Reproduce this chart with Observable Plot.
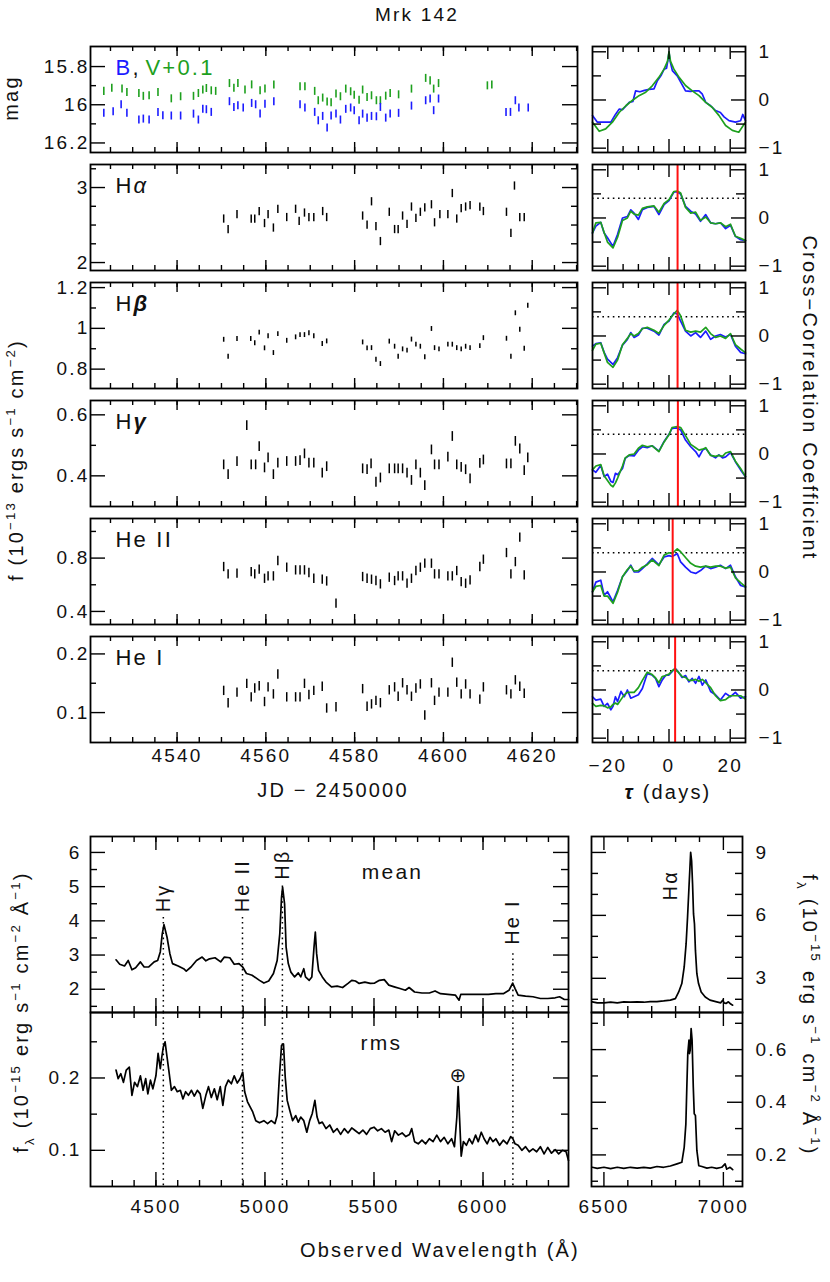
<!DOCTYPE html>
<html><head><meta charset="utf-8">
<script src="https://cdn.jsdelivr.net/npm/d3@7"></script>
<script src="https://cdn.jsdelivr.net/npm/@observablehq/plot@0.6"></script>
<style>
body{margin:0;background:#fff;}
#fig{position:relative;width:830px;height:1282px;overflow:hidden;background:#fff;}
</style></head>
<body><div id="fig"></div>
<script>
// ================= DATA =================
// B-band and V-band (+0.1) light curves: [JD-2450000, mag]
const bObs = [[4523.5,16.045],[4525.6,16.037],[4527.4,16.000],[4528.7,16.045],[4531.4,16.080],[4532.4,16.075],[4533.7,16.080],[4535.7,16.040],[4536.8,16.057],[4538.7,16.059],[4540.8,16.059],[4543.7,16.049],[4544.8,16.080],[4545.8,16.023],[4546.6,16.026],[4547.7,16.040],[4551.8,15.984],[4552.8,16.014],[4553.7,16.005],[4554.9,16.017],[4556.8,15.993],[4557.7,16.000],[4558.7,16.049],[4559.8,15.997],[4561.8,15.984],[4567.7,16.000],[4568.8,16.017],[4571.0,16.040],[4571.8,16.084],[4572.8,16.061],[4573.8,16.122],[4574.7,16.059],[4575.8,16.049],[4576.8,16.080],[4578.0,16.024],[4579.1,16.017],[4579.9,16.031],[4581.0,16.084],[4581.8,16.049],[4582.8,16.070],[4583.8,16.061],[4584.9,16.063],[4585.8,16.014],[4587.0,16.070],[4588.0,16.049],[4589.9,16.045],[4592.8,16.007],[4596.0,15.979],[4597.0,15.970],[4597.8,16.031],[4598.9,15.970],[4614.1,16.040],[4615.1,16.040],[4616.2,15.979],[4617.0,16.017],[4619.1,16.017]];
const vPlusObs = [[4523.5,15.930],[4525.3,15.913],[4527.6,15.918],[4528.7,15.936],[4531.4,15.941],[4532.4,15.956],[4533.7,15.953],[4535.7,15.936],[4538.7,15.969],[4540.8,15.958],[4543.7,15.956],[4544.8,15.941],[4545.8,15.923],[4546.6,15.915],[4547.7,15.927],[4548.7,15.930],[4551.8,15.889],[4552.8,15.913],[4553.7,15.889],[4555.3,15.923],[4556.8,15.896],[4558.7,15.927],[4559.8,15.918],[4561.8,15.896],[4567.7,15.906],[4568.8,15.906],[4571.0,15.930],[4571.8,15.979],[4572.8,15.965],[4573.8,15.986],[4574.7,15.990],[4575.8,15.944],[4576.8,15.958],[4578.0,15.918],[4579.1,15.932],[4579.9,15.950],[4581.0,15.976],[4581.8,15.923],[4582.8,15.962],[4583.8,15.953],[4584.9,15.979],[4585.8,15.979],[4587.0,15.955],[4588.0,15.941],[4589.9,15.948],[4592.8,15.918],[4596.0,15.862],[4597.0,15.875],[4597.8,15.918],[4598.9,15.889],[4609.9,15.901],[4610.9,15.896]];
const magErr = 0.021;

// Emission-line light curves: [JD-2450000, flux (1e-13 erg/s/cm2)]
const haObs = [[4550.5,2.58],[4551.5,2.44],[4553.5,2.64],[4556.7,2.58],[4557.5,2.58],[4558.5,2.68],[4559.7,2.52],[4560.5,2.64],[4561.7,2.46],[4562.7,2.71],[4564.7,2.60],[4566.7,2.71],[4567.5,2.55],[4568.7,2.66],[4569.7,2.60],[4570.8,2.60],[4572.8,2.68],[4573.7,2.60],[4581.8,2.62],[4582.8,2.50],[4583.8,2.81],[4584.8,2.48],[4585.8,2.28],[4587.8,2.67],[4589.0,2.44],[4589.8,2.44],[4590.8,2.62],[4591.8,2.51],[4592.8,2.74],[4593.8,2.59],[4594.8,2.67],[4595.8,2.73],[4597.3,2.77],[4598.0,2.53],[4599.2,2.64],[4601.0,2.64],[4602.0,2.92],[4603.0,2.58],[4604.0,2.72],[4605.0,2.74],[4606.0,2.76],[4608.2,2.74],[4609.0,2.68],[4614.2,2.67],[4615.2,2.39],[4616.0,3.02],[4617.2,2.60],[4618.2,2.60]];
const hbObs = [[4550.5,0.944],[4551.5,0.861],[4553.5,0.948],[4556.6,0.948],[4557.5,0.927],[4558.5,0.979],[4559.7,0.902],[4560.5,0.961],[4561.7,0.879],[4562.7,0.972],[4564.7,0.939],[4566.7,0.956],[4567.7,0.967],[4568.7,0.967],[4569.7,0.976],[4570.8,0.961],[4572.7,0.923],[4573.7,0.936],[4581.8,0.931],[4582.8,0.902],[4583.8,0.903],[4584.8,0.846],[4585.8,0.825],[4587.8,0.935],[4589.0,0.910],[4589.8,0.861],[4590.8,0.897],[4591.8,0.891],[4592.8,0.945],[4593.8,0.920],[4594.8,0.910],[4595.8,0.858],[4597.3,0.997],[4598.0,0.903],[4599.0,0.897],[4601.0,0.920],[4602.0,0.920],[4603.0,0.903],[4604.0,0.897],[4605.0,0.910],[4606.0,0.903],[4608.2,0.913],[4609.0,0.952],[4614.2,0.949],[4615.2,0.861],[4616.2,1.074],[4617.2,0.993],[4618.2,0.900],[4619.0,1.111]];
const hgObs = [[4550.5,0.436],[4551.5,0.404],[4553.5,0.447],[4555.7,0.565],[4556.7,0.436],[4557.7,0.436],[4558.5,0.496],[4559.7,0.426],[4560.5,0.459],[4561.7,0.404],[4562.7,0.442],[4564.7,0.447],[4566.7,0.447],[4567.7,0.450],[4568.7,0.472],[4569.7,0.442],[4570.8,0.442],[4572.7,0.409],[4573.7,0.430],[4581.8,0.423],[4582.8,0.420],[4583.7,0.439],[4584.8,0.379],[4585.8,0.393],[4587.8,0.423],[4589.0,0.423],[4589.8,0.423],[4590.8,0.423],[4591.8,0.409],[4592.8,0.385],[4593.8,0.436],[4594.8,0.409],[4595.8,0.368],[4597.3,0.485],[4598.0,0.436],[4599.0,0.436],[4601.0,0.461],[4602.0,0.529],[4603.0,0.436],[4604.0,0.428],[4605.0,0.420],[4606.0,0.390],[4608.2,0.441],[4609.0,0.452],[4614.2,0.439],[4615.2,0.439],[4616.2,0.513],[4617.2,0.488],[4618.2,0.417],[4619.0,0.459]];
const he2Obs = [[4550.5,0.733],[4551.5,0.678],[4553.5,0.683],[4556.7,0.695],[4557.5,0.678],[4558.5,0.713],[4559.7,0.645],[4560.5,0.663],[4561.7,0.663],[4562.7,0.778],[4564.7,0.728],[4566.7,0.708],[4567.7,0.708],[4568.7,0.708],[4569.7,0.688],[4570.8,0.645],[4572.7,0.638],[4573.7,0.625],[4575.8,0.458],[4581.8,0.658],[4582.8,0.645],[4583.8,0.638],[4584.8,0.628],[4585.8,0.603],[4587.8,0.653],[4589.0,0.628],[4589.8,0.663],[4590.8,0.663],[4591.8,0.608],[4592.8,0.645],[4593.8,0.703],[4594.8,0.728],[4595.8,0.758],[4597.3,0.758],[4598.0,0.678],[4599.0,0.678],[4601.0,0.663],[4602.0,0.663],[4603.0,0.703],[4604.0,0.620],[4605.0,0.608],[4606.0,0.633],[4608.2,0.733],[4609.0,0.788],[4614.2,0.838],[4615.2,0.678],[4616.2,0.770],[4617.2,0.953],[4618.2,0.670]];
const he1Obs = [[4550.5,0.137],[4551.5,0.116],[4553.5,0.134],[4555.7,0.149],[4556.7,0.126],[4557.5,0.141],[4558.5,0.145],[4559.7,0.118],[4560.5,0.143],[4561.7,0.131],[4562.7,0.165],[4564.7,0.126],[4566.7,0.126],[4567.7,0.126],[4568.7,0.149],[4569.7,0.130],[4570.8,0.137],[4572.7,0.144],[4573.7,0.107],[4575.8,0.109],[4581.8,0.140],[4582.8,0.110],[4583.8,0.114],[4584.8,0.120],[4585.8,0.116],[4587.8,0.138],[4589.0,0.143],[4589.8,0.127],[4590.8,0.150],[4591.8,0.138],[4592.8,0.127],[4593.8,0.141],[4594.8,0.148],[4595.8,0.095],[4597.3,0.150],[4598.0,0.120],[4599.0,0.134],[4601.0,0.134],[4602.0,0.185],[4603.0,0.151],[4604.0,0.131],[4605.0,0.148],[4606.0,0.131],[4608.2,0.122],[4609.0,0.143],[4614.2,0.138],[4615.2,0.131],[4616.2,0.155],[4617.2,0.144],[4618.2,0.132]];
const lineErr = [0.055, 0.012, 0.016, 0.035, 0.008];

// Cross-correlation functions (blue: vs B, green: vs V)
const acfBlue = [[-25,-0.32],[-23.4,-0.46],[-21,-0.46],[-19,-0.46],[-17.5,-0.30],[-16.3,-0.19],[-15.2,-0.20],[-14,-0.12],[-13,-0.05],[-11.8,-0.03],[-10.9,0.19],[-9.5,0.17],[-8,0.20],[-6.5,0.22],[-4.9,0.23],[-3.8,0.40],[-2.5,0.52],[-1.6,0.64],[-0.8,0.66],[-0.3,0.85],[0,0.99],[0.4,0.80],[1.1,0.61],[2.7,0.50],[4,0.35],[5.4,0.19],[7,0.18],[8.5,0.19],[9.8,0.19],[10.9,0.12],[12,-0.05],[13.6,-0.12],[15.2,-0.22],[16.8,-0.26],[18,-0.35],[19.6,-0.43],[21.7,-0.46],[23.4,-0.43],[24.1,-0.30],[25,-0.43]];
const acfGreen = [[-25,-0.46],[-22.8,-0.65],[-20.7,-0.60],[-18.5,-0.46],[-16.3,-0.26],[-14.1,-0.12],[-12,-0.01],[-9.8,0.09],[-7.6,0.16],[-5.4,0.30],[-3.3,0.47],[-1.6,0.64],[-0.5,0.80],[0,1.0],[0.5,0.80],[1.6,0.64],[3.3,0.47],[5.4,0.30],[7.6,0.19],[9.8,0.09],[12,-0.05],[14.1,-0.15],[16.3,-0.32],[18.5,-0.53],[20.7,-0.63],[22.8,-0.67],[25,-0.46]];
const tauA = [-25,-23.9,-22.3,-21.2,-20.1,-18.3,-16.8,-15.2,-13.6,-12.5,-11.4,-10,-8.7,-7.1,-4.9,-3.3,-1.6,0,1.6,2.7,3.8,5.4,7.1,8.7,10.3,12,13.6,15.2,16.8,18.5,20.1,21.7,23.4,25];
const haBlue = [-0.31,-0.17,-0.09,-0.31,-0.41,-0.59,-0.34,0,0.03,0.17,0.10,-0.03,0.17,0.22,0.24,0.07,0.28,0.36,0.54,0.54,0.50,0.24,0.14,0.08,-0.07,0.07,-0.10,-0.12,-0.10,-0.22,-0.15,-0.38,-0.45,-0.47];
const haGreen = [-0.31,-0.10,-0.09,-0.30,-0.50,-0.62,-0.40,-0.05,0.00,0.14,0.08,0.06,0.20,0.23,0.25,0.12,0.30,0.38,0.55,0.56,0.52,0.22,0.10,0.12,-0.05,0.02,-0.10,-0.12,-0.10,-0.18,-0.13,-0.38,-0.42,-0.47];
const hbBlue = [-0.21,-0.16,-0.14,-0.34,-0.48,-0.59,-0.45,-0.19,-0.07,0.07,-0.03,0.02,0.16,0.16,0.10,0.02,0.24,0.31,0.48,0.46,0.31,0.10,0.00,0.07,-0.03,0.10,-0.07,0.00,0.03,-0.02,0.03,-0.21,-0.34,-0.37];
const hbGreen = [-0.30,-0.17,-0.15,-0.35,-0.55,-0.65,-0.50,-0.18,-0.05,0.05,0.00,0.05,0.15,0.18,0.12,0.05,0.22,0.33,0.46,0.53,0.42,0.12,0.08,0.10,0.08,0.18,0.05,-0.03,0.00,-0.05,0.05,-0.18,-0.27,-0.35];
const tauG = [-25,-23.9,-22.3,-21.2,-20.1,-19,-18.3,-17.5,-16.8,-15.2,-14.3,-13,-11.4,-10,-8.7,-7.1,-5.5,-3.3,-1.6,0,1,2.7,3.8,5.4,7.1,8.7,9.8,11,12,13.6,15.2,16.3,17.5,18.5,20.1,21.7,23.4,25];
const hgBlue = [-0.33,-0.38,-0.24,-0.47,-0.42,-0.57,-0.59,-0.40,-0.43,-0.30,-0.09,-0.03,-0.04,0.08,0.15,0.13,0.17,0.06,0.26,0.41,0.53,0.54,0.50,0.29,0.15,0.05,-0.06,0.08,0.12,-0.02,-0.08,-0.02,-0.08,-0.06,0.03,-0.16,-0.33,-0.47];
const hgGreen = [-0.33,-0.25,-0.22,-0.45,-0.55,-0.65,-0.68,-0.60,-0.50,-0.25,-0.08,-0.02,0.00,0.12,0.18,0.15,0.17,0.05,0.25,0.40,0.55,0.57,0.55,0.38,0.20,0.13,0.08,0.10,0.13,-0.03,-0.05,-0.03,-0.05,0.02,0.05,-0.15,-0.30,-0.47];
const tauH2 = [-25,-23.9,-22.3,-21.2,-20.1,-18.3,-16.8,-15.2,-13.6,-12.5,-11.4,-10,-8.7,-7.1,-5.5,-3.3,-1.6,0,1,2.7,3.8,5.4,7.1,8.7,10.3,12,13.6,15.2,16.8,18.5,20.1,21.7,23.4,25];
const he2Blue = [-0.41,-0.21,-0.17,-0.48,-0.41,-0.62,-0.38,-0.10,0.03,0.14,0.00,0.00,0.07,0.17,0.28,0.15,0.31,0.34,0.32,0.38,0.21,0.10,0.00,-0.03,0.03,0.12,0.07,0.10,0.14,0.07,0.14,-0.10,-0.28,-0.31];
const he2Green = [-0.41,-0.30,-0.28,-0.50,-0.50,-0.65,-0.42,-0.10,0.05,0.12,0.02,0.03,0.10,0.15,0.25,0.13,0.35,0.40,0.38,0.48,0.42,0.30,0.18,0.12,0.10,0.12,0.10,0.12,0.12,0.08,0.10,-0.12,-0.22,-0.31];
const tauH1 = [-25,-23.9,-22.3,-21.2,-20.1,-19,-18.3,-17.5,-16.8,-15.7,-14.6,-13.6,-12.5,-11.4,-10,-8.7,-7.1,-5.5,-4.4,-3.3,-2.2,-1,0,1,2,3,4.3,5.4,6.5,7.6,8.7,9.8,10.9,12,13.6,15.2,16.8,18.5,20.1,21.7,23.4,25];
const he1Blue = [-0.14,-0.21,-0.19,-0.34,-0.28,-0.41,-0.34,-0.14,-0.24,-0.03,-0.14,0,-0.17,-0.14,-0.10,0.03,0.34,0.31,0.24,0.07,0.21,0.31,0.31,0.38,0.45,0.38,0.26,0.30,0.17,0.24,0.14,0.28,0.10,0.21,-0.03,-0.10,-0.21,-0.07,-0.14,-0.05,-0.17,-0.14];
const he1Green = [-0.28,-0.34,-0.32,-0.33,-0.37,-0.35,-0.30,-0.27,-0.30,-0.20,-0.10,-0.05,-0.05,-0.05,0.05,0.20,0.37,0.32,0.25,0.15,0.28,0.30,0.33,0.40,0.44,0.37,0.28,0.26,0.20,0.20,0.22,0.18,0.22,0.15,0.05,-0.12,-0.22,-0.20,-0.12,-0.12,-0.12,-0.19];
const lineLags = [2.8, 2.8, 2.9, 1.2, 2.0];
const ccfLevel = [0.41, 0.40, 0.41, 0.40, 0.40];

// Mean and rms spectra
const meanWave = [4317,4334,4356,4373,4390,4407,4429,4446,4466,4492,4508,4520,4529,4537,4551,4564,4576,4602,4627,4639,4661,4686,4712,4729,4746,4771,4797,4814,4839,4859,4881,4898,4915,4941,4975,4995,5017,5039,5056,5068,5076,5081,5090,5097,5107,5119,5136,5153,5164,5178,5186,5203,5215,5225,5231,5237,5246,5263,5280,5305,5331,5356,5381,5398,5415,5432,5458,5483,5503,5525,5547,5568,5593,5619,5644,5661,5686,5720,5754,5780,5805,5839,5873,5890,5898,5924,5958,5992,6025,6059,6093,6119,6136,6147,6161,6195,6229,6263,6297,6331,6351,6373,6392];
const meanFlux = [2.86,2.73,2.68,2.84,2.57,2.63,2.80,2.65,2.65,2.80,2.84,3.09,3.62,3.89,3.52,3.04,2.75,2.68,2.60,2.53,2.65,2.84,2.94,2.83,2.89,2.92,2.80,2.94,2.92,2.73,2.75,2.65,2.46,2.41,2.26,2.18,2.24,2.46,2.84,3.62,4.69,4.98,4.50,3.23,2.75,2.50,2.36,2.48,2.36,2.60,2.36,2.26,2.36,3.23,3.67,3.04,2.55,2.36,2.21,2.07,2.09,2.05,2.17,2.26,2.24,2.17,2.21,2.17,2.18,2.26,2.28,2.12,2.07,2.02,1.97,2.05,1.92,1.89,1.89,1.95,1.87,1.85,1.83,1.68,1.85,1.85,1.85,1.85,1.85,1.87,1.87,1.97,2.18,2.02,1.83,1.80,1.78,1.73,1.73,1.75,1.78,1.70,1.70];
const rmsWave = [4317,4327,4339,4351,4364,4378,4390,4402,4415,4429,4441,4453,4463,4475,4486,4500,4510,4520,4527,4534,4542,4551,4559,4571,4585,4598,4612,4624,4636,4649,4663,4676,4690,4703,4715,4729,4741,4754,4768,4781,4795,4807,4819,4832,4846,4859,4873,4886,4898,4907,4920,4932,4944,4958,4975,4995,5012,5029,5046,5056,5066,5076,5085,5093,5102,5114,5127,5141,5153,5164,5178,5192,5205,5217,5229,5239,5249,5263,5280,5297,5314,5331,5347,5364,5381,5398,5415,5432,5449,5466,5483,5500,5517,5534,5551,5568,5581,5595,5612,5629,5646,5663,5673,5686,5703,5720,5737,5754,5771,5788,5805,5822,5839,5856,5869,5880,5886,5893,5900,5910,5924,5937,5951,5966,5978,5992,6005,6019,6032,6046,6059,6076,6093,6110,6127,6137,6147,6161,6178,6195,6212,6229,6246,6263,6280,6297,6314,6331,6347,6364,6381,6392];
const rmsFlux = [0.211,0.199,0.206,0.194,0.211,0.215,0.176,0.194,0.188,0.203,0.183,0.199,0.178,0.197,0.185,0.203,0.234,0.213,0.229,0.243,0.250,0.229,0.211,0.183,0.188,0.181,0.183,0.171,0.181,0.176,0.183,0.175,0.183,0.178,0.158,0.176,0.188,0.173,0.185,0.170,0.188,0.162,0.188,0.197,0.192,0.203,0.193,0.199,0.208,0.181,0.167,0.160,0.153,0.141,0.138,0.141,0.137,0.141,0.137,0.148,0.201,0.245,0.247,0.201,0.169,0.155,0.141,0.148,0.139,0.146,0.141,0.125,0.141,0.151,0.169,0.146,0.137,0.139,0.130,0.135,0.125,0.130,0.122,0.130,0.124,0.131,0.127,0.123,0.128,0.122,0.130,0.132,0.127,0.130,0.125,0.128,0.112,0.127,0.121,0.124,0.119,0.122,0.130,0.112,0.109,0.114,0.109,0.116,0.112,0.121,0.112,0.118,0.109,0.116,0.105,0.146,0.188,0.141,0.092,0.112,0.107,0.116,0.109,0.121,0.112,0.125,0.116,0.109,0.118,0.112,0.116,0.107,0.114,0.109,0.119,0.116,0.109,0.107,0.100,0.105,0.098,0.102,0.098,0.105,0.095,0.104,0.096,0.101,0.095,0.100,0.098,0.086];
const haMeanWave = [6451,6472,6500,6528,6556,6583,6611,6639,6667,6694,6722,6750,6778,6799,6813,6826,6836,6844,6850,6856,6860,6863,6867,6871,6875,6879,6883,6889,6896,6907,6924,6944,6972,6989,6997,7003,7011,7021,7031,7039];
const haMeanFlux = [1.88,1.83,1.83,1.86,1.83,1.88,1.86,1.88,1.86,1.89,1.89,1.92,1.96,2.03,2.35,2.75,3.54,4.65,5.91,7.34,8.28,9.0,8.6,7.49,6.07,5.59,4.33,3.22,2.75,2.35,2.11,1.96,1.88,1.83,1.96,1.83,1.80,1.88,1.77,1.72];
const haRmsWave = [6451,6472,6500,6528,6556,6583,6611,6639,6667,6694,6722,6750,6778,6806,6826,6836,6843,6847,6851,6856,6858,6861,6865,6869,6874,6878,6883,6889,6897,6910,6931,6951,6972,6993,7007,7014,7028,7039];
const haRmsFlux = [0.153,0.149,0.153,0.148,0.153,0.149,0.153,0.150,0.153,0.150,0.156,0.153,0.158,0.166,0.172,0.229,0.318,0.458,0.585,0.636,0.585,0.597,0.680,0.636,0.458,0.356,0.350,0.217,0.159,0.156,0.150,0.153,0.149,0.153,0.166,0.146,0.153,0.144];
const lineNames = ["Hγ", "He II", "Hβ", "He I"];
const lineWave = [4534, 4897, 5080, 6137];

// Tick labels
const jdTicks = [4540, 4560, 4580, 4600, 4620];
const tauTicks = [-20, 0, 20];
const waveTicks = [4500, 5000, 5500, 6000];
const haWaveTicks = [6500, 7000];

// ================= DRAWING =================
const INK = "#000", TXT = "#111", BLUE = "#1c1cff", GREEN = "#1ea01e", RED = "#ff1010";
const FONT = "'Liberation Sans', Arial, Helvetica, sans-serif";
const fig = document.getElementById("fig");
const fmt = d => String(d).replace("-", "−");
const baseStyle = {background: "none", overflow: "visible", fontFamily: FONT, fontSize: "19px", letterSpacing: "2.2px", color: TXT};

function place(svg, left, top) {
  svg.style.position = "absolute"; svg.style.left = left + "px"; svg.style.top = top + "px";
  svg.style.maxWidth = "none";
  fig.appendChild(svg);
}
function within(vals, dom) { const lo = Math.min(...dom), hi = Math.max(...dom); return vals.filter(v => v > lo && v < hi); }
function innerTicks(W, H, xd, yd, xMaj, xMin, yMaj, yMin, L) {
  const s = {stroke: INK, strokeWidth: 1.4};
  const xm = within(xMaj, xd), xn = within(xMin, xd), ym = within(yMaj, yd), yn = within(yMin, yd);
  return [
    Plot.tickX(xm, {x: d => d, insetTop: H - L.xM, ...s}),
    Plot.tickX(xm, {x: d => d, insetBottom: H - L.xM, ...s}),
    Plot.tickX(xn, {x: d => d, insetTop: H - L.xm, ...s}),
    Plot.tickX(xn, {x: d => d, insetBottom: H - L.xm, ...s}),
    Plot.tickY(ym, {y: d => d, insetRight: W - L.yM, ...s}),
    Plot.tickY(ym, {y: d => d, insetLeft: W - L.yM, ...s}),
    Plot.tickY(yn, {y: d => d, insetRight: W - L.ym, ...s}),
    Plot.tickY(yn, {y: d => d, insetLeft: W - L.ym, ...s}),
    Plot.frame({stroke: INK, strokeWidth: 1.8})
  ];
}
const step = (a, b, s) => d3.range(a, b + s / 2, s).map(v => +v.toFixed(4));
const corner = {frameAnchor: "top-left", dy: 21, textAnchor: "start", lineAnchor: "middle", fontSize: 22};

// ---------- Light-curve panels ----------
const ROW_TOP = [46, 164, 282, 400, 518, 636], ROW_H = 106;
const LC_LEFT = 90, LC_W = 487, jdDomain = [4520.5, 4630.2];
const lcDefs = [
  {obs: null, dom: [15.695, 16.25], rev: true, maj: [15.8, 16, 16.2], min: [15.9, 16.1]},
  {obs: haObs, dom: [1.894, 3.307], maj: [2, 3], min: [2.25, 2.5, 2.75, 3.25], name: ["H", "α", "normal"]},
  {obs: hbObs, dom: [0.705, 1.225], maj: [0.8, 1, 1.2], min: [0.9, 1.1], name: ["H", "β", "bold"]},
  {obs: hgObs, dom: [0.2995, 0.647], maj: [0.4, 0.6], min: [0.5], name: ["H", "γ", "bold"]},
  {obs: he2Obs, dom: [0.302, 1.097], maj: [0.4, 0.8], min: [0.6, 1.0], name: ["He II", "", "normal"]},
  {obs: he1Obs, dom: [0.049, 0.2297], maj: [0.1, 0.2], min: [0.15], name: ["He I", "", "normal"]}
];
lcDefs.forEach((def, i) => {
  const bottom = i === 5;
  const ml = 70, mr = 8, mt = 4, mb = bottom ? 40 : 4;
  const marks = [];
  if (i === 0) {
    marks.push(
      Plot.ruleX(vPlusObs, {x: d => d[0], y1: d => d[1] - magErr, y2: d => d[1] + magErr, stroke: GREEN, strokeWidth: 1.6}),
      Plot.ruleX(bObs, {x: d => d[0], y1: d => d[1] - magErr, y2: d => d[1] + magErr, stroke: BLUE, strokeWidth: 1.6}),
      Plot.text(["B"], {text: d => d, ...corner, dx: 25, fill: BLUE}),
      Plot.text([","], {text: d => d, ...corner, dx: 42, fill: TXT}),
      Plot.text(["V+0.1"], {text: d => d, ...corner, dx: 55, fill: GREEN})
    );
  } else {
    const e = lineErr[i - 1];
    marks.push(
      Plot.ruleX(def.obs, {x: d => d[0], y1: d => d[1] - e, y2: d => d[1] + e, stroke: INK, strokeWidth: 1.5}),
      Plot.text([def.name[0]], {text: d => d, ...corner, dx: 25, fill: TXT})
    );
    if (def.name[1]) marks.push(Plot.text([def.name[1]], {text: d => d, ...corner, dx: 43, fill: TXT, fontStyle: "italic", fontWeight: def.name[2]}));
  }
  const svg = Plot.plot({
    width: LC_W + ml + mr, height: ROW_H + mt + mb,
    marginLeft: ml, marginRight: mr, marginTop: mt, marginBottom: mb,
    style: baseStyle,
    x: {domain: jdDomain, axis: bottom ? "bottom" : null, ticks: jdTicks, tickSize: 0, tickPadding: 6, tickFormat: fmt, label: null},
    y: {domain: def.dom, reverse: !!def.rev, axis: "left", ticks: def.maj, tickSize: 0, tickPadding: 1, tickFormat: fmt, label: null},
    marks: [...marks, ...innerTicks(LC_W, ROW_H, jdDomain, def.dom, jdTicks, step(4525, 4630, 5), def.maj, def.min, {xM: 10, xm: 5, yM: 15, ym: 6})]
  });
  place(svg, LC_LEFT - ml, ROW_TOP[i] - mt);
});

// ---------- CCF panels ----------
const CCF_LEFT = 592, CCF_W = 153, tauDomain = [-25, 25], ccfDomain = [-1.09, 1.11];
const ccfDefs = [
  {blue: acfBlue.map(d => d[1]), bt: acfBlue.map(d => d[0]), green: acfGreen.map(d => d[1]), gt: acfGreen.map(d => d[0])},
  {blue: haBlue, bt: tauA, green: haGreen, gt: tauA},
  {blue: hbBlue, bt: tauA, green: hbGreen, gt: tauA},
  {blue: hgBlue, bt: tauG, green: hgGreen, gt: tauG},
  {blue: he2Blue, bt: tauH2, green: he2Green, gt: tauH2},
  {blue: he1Blue, bt: tauH1, green: he1Green, gt: tauH1}
];
ccfDefs.forEach((def, i) => {
  const bottom = i === 5;
  const ml = 8, mr = 40, mt = 4, mb = bottom ? 40 : 4;
  const marks = [];
  if (i > 0) marks.push(Plot.ruleY([ccfLevel[i - 1]], {y: d => d, stroke: INK, strokeWidth: 1.5, strokeDasharray: "1.6,3.6"}));
  marks.push(
    Plot.line(def.blue, {x: def.bt, y: def.blue, stroke: BLUE, strokeWidth: 1.7}),
    Plot.line(def.green, {x: def.gt, y: def.green, stroke: GREEN, strokeWidth: 1.7})
  );
  if (i > 0) marks.push(Plot.ruleX([lineLags[i - 1]], {x: d => d, stroke: RED, strokeWidth: 2}));
  const svg = Plot.plot({
    width: CCF_W + ml + mr, height: ROW_H + mt + mb,
    marginLeft: ml, marginRight: mr, marginTop: mt, marginBottom: mb,
    style: baseStyle,
    x: {domain: tauDomain, axis: bottom ? "bottom" : null, ticks: tauTicks, tickSize: 0, tickPadding: 16, tickFormat: fmt, label: null},
    y: {domain: ccfDomain, axis: "right", ticks: [-1, 0, 1], tickSize: 0, tickPadding: 13, tickFormat: fmt, label: null},
    marks: [...marks, ...innerTicks(CCF_W, ROW_H, tauDomain, ccfDomain, tauTicks, [-15, -10, -5, 5, 10, 15], [-1, 0, 1], [-0.5, 0.5], {xM: 13, xm: 6, yM: 14, ym: 9})]
  });
  place(svg, CCF_LEFT - ml, ROW_TOP[i] - mt);
});

// ---------- Spectra ----------
const SP_LEFT = 90, SP_W = 478, HA_LEFT = 591, HA_W = 151;
const MEAN_TOP = 836, MEAN_H = 176, RMS_TOP = 1012, RMS_H = 174;
const waveDomain = [4200, 6392], haDomain = [6448, 7080];
const meanDom = [1.32, 6.466], rmsDom = [0.05, 0.2905], haMeanDom = [1.37, 9.76], haRmsDom = [0.08, 0.741];
const dotTop = [4.1, 4.1, 5.05, 3.15], labelBase = [4.25, 4.25, 5.2, 3.3];
const specStroke = {stroke: INK, strokeWidth: 1.7, strokeLinejoin: "round"};
const dots = {stroke: INK, strokeWidth: 1.5, strokeDasharray: "1.6,3.6"};

function specPanel({left, top, W, H, xd, yd, xTicks, xMin, yMaj, yMin, axisY, xAxis, marks, padY}) {
  const ml = 60, mr = 60, mt = 4, mb = xAxis ? 40 : 4;
  const svg = Plot.plot({
    width: W + ml + mr, height: H + mt + mb,
    marginLeft: ml, marginRight: mr, marginTop: mt, marginBottom: mb,
    style: baseStyle,
    x: {domain: xd, axis: xAxis ? "bottom" : null, ticks: xTicks, tickSize: 0, tickPadding: 13, tickFormat: fmt, label: null},
    y: {domain: yd, axis: axisY, ticks: yMaj, tickSize: 0, tickPadding: padY, tickFormat: fmt, label: null},
    marks: [...marks, ...innerTicks(W, H, xd, yd, xTicks, xMin, yMaj, yMin, {xM: 14, xm: 6, yM: 15, ym: 7})]
  });
  place(svg, left - ml, top - mt);
}
specPanel({left: SP_LEFT, top: MEAN_TOP, W: SP_W, H: MEAN_H, xd: waveDomain, yd: meanDom, xTicks: waveTicks,
  xMin: step(4300, 6300, 100), yMaj: [2, 3, 4, 5, 6], yMin: [1.5, 2.5, 3.5, 4.5, 5.5], axisY: "left", xAxis: false, padY: 9,
  marks: [
    Plot.ruleX(lineWave, {x: d => d, y1: meanDom[0], y2: (d, i) => dotTop[i], ...dots}),
    Plot.line(meanFlux, {x: meanWave, y: meanFlux, ...specStroke}),
    Plot.text(lineNames, {x: lineWave, y: labelBase, text: d => d, rotate: -90, textAnchor: "start", fill: TXT, fontSize: 20}),
    Plot.text(["mean"], {x: 5585, y: 5.41, text: d => d, fill: TXT, fontSize: 21})
  ]});
specPanel({left: SP_LEFT, top: RMS_TOP, W: SP_W, H: RMS_H, xd: waveDomain, yd: rmsDom, xTicks: waveTicks,
  xMin: step(4300, 6300, 100), yMaj: [0.1, 0.2], yMin: [0.15, 0.25], axisY: "left", xAxis: true, padY: 9,
  marks: [
    Plot.ruleX(lineWave, {x: d => d, ...dots}),
    Plot.line(rmsFlux, {x: rmsWave, y: rmsFlux, ...specStroke}),
    Plot.text(["rms"], {x: 5534, y: 0.248, text: d => d, fill: TXT, fontSize: 21}),
    Plot.text(["⊕"], {x: 5890, y: 0.203, text: d => d, fill: TXT, fontSize: 20, fontFamily: "'DejaVu Sans', sans-serif"})
  ]});
specPanel({left: HA_LEFT, top: MEAN_TOP, W: HA_W, H: MEAN_H, xd: haDomain, yd: haMeanDom, xTicks: haWaveTicks,
  xMin: [6600, 6700, 6800, 6900], yMaj: [3, 6, 9], yMin: [2, 4, 5, 7, 8], axisY: "right", xAxis: false, padY: 13,
  marks: [
    Plot.line(haMeanFlux, {x: haMeanWave, y: haMeanFlux, ...specStroke}),
    Plot.text(["Hα"], {x: 6781, y: 6.71, text: d => d, rotate: -90, textAnchor: "start", fill: TXT, fontSize: 20})
  ]});
specPanel({left: HA_LEFT, top: RMS_TOP, W: HA_W, H: RMS_H, xd: haDomain, yd: haRmsDom, xTicks: haWaveTicks,
  xMin: [6600, 6700, 6800, 6900], yMaj: [0.2, 0.4, 0.6], yMin: [0.1, 0.3, 0.5, 0.7], axisY: "right", xAxis: true, padY: 13,
  marks: [
    Plot.line(haRmsFlux, {x: haRmsWave, y: haRmsFlux, ...specStroke})
  ]});

// ---------- Figure-level labels ----------
const ov = d3.select(fig).append("svg").attr("width", 830).attr("height", 1282)
  .style("position", "absolute").style("left", "0px").style("top", "0px").style("pointer-events", "none")
  .style("font-family", FONT).style("letter-spacing", "2.2px").style("white-space", "pre").attr("fill", TXT);
function label(x, y, rot, parts, size = 20) {
  const t = ov.append("text").attr("transform", `translate(${x},${y}) rotate(${rot})`)
    .attr("text-anchor", "middle").attr("y", size * 0.35).style("font-size", size + "px");
  let off = 0;
  for (const [s, kind] of parts) {
    const target = kind === "sup" ? -0.42 * size : kind === "sub" ? 0.28 * size : 0;
    const ts = t.append("tspan").attr("dy", target - off).text(s);
    if (kind === "sup" || kind === "sub") ts.style("font-size", (size * 0.66) + "px");
    if (kind === "bi") ts.style("font-style", "italic").style("font-weight", "bold");
    off = target;
  }
}
label(417, 14, 0, [["Mrk 142", ""]], 19);
label(11, 98, -90, [["mag", ""]]);
label(16, 460, -90, [["f  (10", ""], ["−13", "sup"], [" ergs s", ""], ["−1", "sup"], [" cm", ""], ["−2", "sup"], [")", ""]]);
label(333, 790, 0, [["JD − 2450000", ""]]);
label(668, 792, 0, [["τ", "bi"], [" (days)", ""]]);
label(810, 398, 90, [["Cross−Correlation Coefficient", ""]]);
label(21, 1012, -90, [["f", ""], ["λ", "sub"], [" (10", ""], ["−15", "sup"], [" erg s", ""], ["−1", "sup"], [" cm", ""], ["−2", "sup"], [" Å", ""], ["−1", "sup"], [")", ""]]);
label(810, 1015, 90, [["f", ""], ["λ", "sub"], [" (10", ""], ["−15", "sup"], [" erg s", ""], ["−1", "sup"], [" cm", ""], ["−2", "sup"], [" Å", ""], ["−1", "sup"], [")", ""]]);
label(440, 1250, 0, [["Observed Wavelength (Å)", ""]]);
</script>
</body></html>
